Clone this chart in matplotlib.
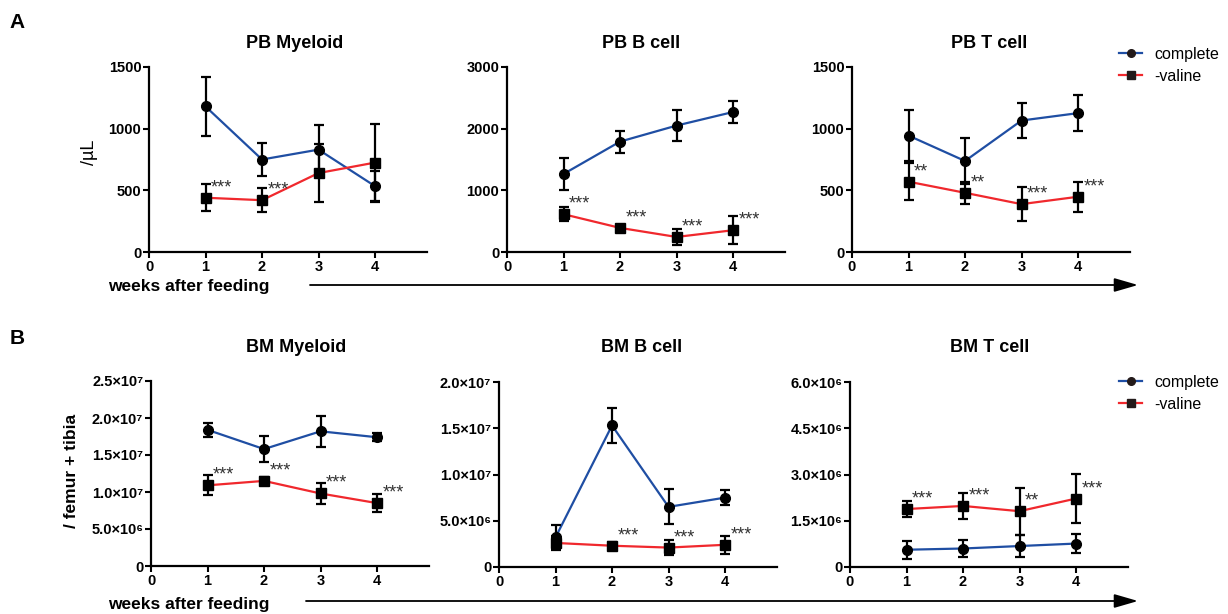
import matplotlib
matplotlib.use("Agg")
import matplotlib.pyplot as plt
from matplotlib.lines import Line2D
from matplotlib.patches import FancyArrowPatch

plt.rcParams['font.family'] = ['Liberation Sans', 'DejaVu Sans']

# ---------------- data ----------------
weeks = [1, 2, 3, 4]

# PB Myeloid (/uL)
pbm_complete = [1180, 750, 830, 534]
pbm_complete_err = [240, 130, 200, 125]
pbm_valine = [440, 420, 640, 725]
pbm_valine_err = [110, 95, 235, 310]
pbm_stars = ['***', '***', '', '']

# PB B cell (/uL)
pbb_complete = [1265, 1790, 2050, 2270]
pbb_complete_err = [265, 180, 245, 180]
pbb_valine = [613, 391, 244, 353]
pbb_valine_err = [110, 40, 130, 230]
pbb_stars = ['***', '***', '***', '***']

# PB T cell (/uL)
pbt_complete = [944, 738, 1066, 1126]
pbt_complete_err = [210, 190, 145, 145]
pbt_valine = [570, 480, 388, 448]
pbt_valine_err = [150, 90, 140, 120]
pbt_stars = ['**', '**', '***', '***']

# BM Myeloid (/femur + tibia)
bmm_complete = [18.4e6, 15.8e6, 18.2e6, 17.4e6]
bmm_complete_err = [0.95e6, 1.75e6, 2.1e6, 0.55e6]
bmm_valine = [10.9e6, 11.5e6, 9.8e6, 8.5e6]
bmm_valine_err = [1.35e6, 0.5e6, 1.45e6, 1.25e6]
bmm_stars = ['***', '***', '***', '***']

# BM B cell
bmb_complete = [3.2e6, 15.3e6, 6.5e6, 7.5e6]
bmb_complete_err = [1.3e6, 1.85e6, 1.9e6, 0.85e6]
bmb_valine = [2.6e6, 2.3e6, 2.1e6, 2.4e6]
bmb_valine_err = [0.8e6, 0.35e6, 0.8e6, 0.95e6]
bmb_stars = ['', '***', '***', '***']

# BM T cell
bmt_complete = [0.56e6, 0.60e6, 0.68e6, 0.76e6]
bmt_complete_err = [0.29e6, 0.28e6, 0.36e6, 0.31e6]
bmt_valine = [1.88e6, 1.98e6, 1.81e6, 2.22e6]
bmt_valine_err = [0.26e6, 0.43e6, 0.76e6, 0.80e6]
bmt_stars = ['***', '***', '**', '***']

titles = ['PB Myeloid', 'PB B cell', 'PB T cell', 'BM Myeloid', 'BM B cell', 'BM T cell']
x_ticks = [0, 1, 2, 3, 4]

pb_my_ticks = [0, 500, 1000, 1500]
pb_my_labels = ['0', '500', '1000', '1500']
pb_b_ticks = [0, 1000, 2000, 3000]
pb_b_labels = ['0', '1000', '2000', '3000']
pb_t_ticks = [0, 500, 1000, 1500]
pb_t_labels = ['0', '500', '1000', '1500']
bm_my_ticks = [0, 5e6, 1e7, 1.5e7, 2e7, 2.5e7]
bm_my_labels = ['0', '5.0×10⁶', '1.0×10⁷', '1.5×10⁷', '2.0×10⁷', '2.5×10⁷']
bm_b_ticks = [0, 5e6, 1e7, 1.5e7, 2e7]
bm_b_labels = ['0', '5.0×10⁶', '1.0×10⁷', '1.5×10⁷', '2.0×10⁷']
bm_t_ticks = [0, 1.5e6, 3e6, 4.5e6, 6e6]
bm_t_labels = ['0', '1.5×10⁶', '3.0×10⁶', '4.5×10⁶', '6.0×10⁶']

legend_labels = ['complete', '-valine']

# ---------------- style ----------------
BLUE = '#1f4ea3'
RED = '#f0282d'
W, H = 1228, 614

fig = plt.figure(figsize=(W / 100, H / 100), dpi=100)


def rect(left, axis_y, top, width=278):
    return [left / W, 1 - axis_y / H, width / W, (axis_y - top) / H]


def panel(r, comp, comp_err, val, val_err, stars, yticks, ylabels, title_xy, title):
    ax = fig.add_axes(r)
    ax.plot(weeks, comp, color=BLUE, lw=1.6, zorder=2)
    ax.plot(weeks, val, color=RED, lw=1.6, zorder=2)
    kw = dict(color='black', ecolor='black', elinewidth=1.6, capsize=3.3,
              capthick=1.6, markersize=7, zorder=3, ls='none')
    ax.errorbar(weeks, comp, yerr=comp_err, fmt='o', **kw)
    ax.errorbar(weeks, val, yerr=val_err, fmt='s', **kw)
    for x, y, s in zip(weeks, val, stars):
        if s:
            ax.annotate(s, (x, y), xytext=(4, 4), textcoords='offset points',
                        ha='left', va='baseline', fontsize=13, color='#333333')
    ax.set_xlim(0, 4.92)
    ax.set_ylim(0, yticks[-1])
    ax.set_xticks(x_ticks)
    ax.set_xticklabels([str(t) for t in x_ticks])
    ax.set_yticks(yticks)
    ax.set_yticklabels(ylabels)
    for sp in ['top', 'right']:
        ax.spines[sp].set_visible(False)
    for sp in ['left', 'bottom']:
        ax.spines[sp].set_linewidth(1.6)
    ax.tick_params(axis='both', direction='out', length=4, width=1.5,
                   labelsize=10.5, pad=1.5)
    for lab in ax.get_xticklabels() + ax.get_yticklabels():
        lab.set_fontweight('bold')
    ax.patch.set_alpha(0)
    fig.text(title_xy[0] / W, 1 - title_xy[1] / H, title, ha='center', va='center',
             fontsize=13, fontweight='bold')
    return ax


panel(rect(149, 252, 67), pbm_complete, pbm_complete_err, pbm_valine, pbm_valine_err,
      pbm_stars, pb_my_ticks, pb_my_labels, (295, 43), titles[0])
panel(rect(507, 252, 67), pbb_complete, pbb_complete_err, pbb_valine, pbb_valine_err,
      pbb_stars, pb_b_ticks, pb_b_labels, (641, 43), titles[1])
panel(rect(852, 252, 67), pbt_complete, pbt_complete_err, pbt_valine, pbt_valine_err,
      pbt_stars, pb_t_ticks, pb_t_labels, (989, 43), titles[2])
panel(rect(151, 566, 381), bmm_complete, bmm_complete_err, bmm_valine, bmm_valine_err,
      bmm_stars, bm_my_ticks, bm_my_labels, (296, 348), titles[3])
panel(rect(499, 567, 382), bmb_complete, bmb_complete_err, bmb_valine, bmb_valine_err,
      bmb_stars, bm_b_ticks, bm_b_labels, (642, 348), titles[4])
panel(rect(850, 567, 382), bmt_complete, bmt_complete_err, bmt_valine, bmt_valine_err,
      bmt_stars, bm_t_ticks, bm_t_labels, (990, 348), titles[5])

# panel letters
fig.text(17 / W, 1 - 22 / H, 'A', ha='center', va='center', fontsize=15, fontweight='bold')
fig.text(17 / W, 1 - 338 / H, 'B', ha='center', va='center', fontsize=15, fontweight='bold')

# y labels
fig.text(90 / W, 1 - 152 / H, '/µL', ha='center', va='center', rotation=90, fontsize=13)
fig.text(72 / W, 1 - 471 / H, '/ femur + tibia', ha='center', va='center', rotation=90,
         fontsize=12.5, fontweight='bold')

# x labels
fig.text(189 / W, 1 - 287 / H, 'weeks after feeding', ha='center', va='center',
         fontsize=12.5, fontweight='bold')
fig.text(189 / W, 1 - 604 / H, 'weeks after feeding', ha='center', va='center',
         fontsize=12.5, fontweight='bold')

# arrows
for x0, y0 in [(310, 285), (306, 601)]:
    arr = FancyArrowPatch((x0 / W, 1 - y0 / H), (1138 / W, 1 - y0 / H),
                          transform=fig.transFigure,
                          arrowstyle='-|>,head_length=1.45,head_width=0.42',
                          mutation_scale=10, lw=1.3, color='black',
                          shrinkA=0, shrinkB=0)
    fig.add_artist(arr)

# legends
handles = [Line2D([], [], color=BLUE, lw=1.6, marker='o', markersize=5.5,
                  markerfacecolor='#231a1a', markeredgecolor='#231a1a'),
           Line2D([], [], color=RED, lw=1.6, marker='s', markersize=5.5,
                  markerfacecolor='#231a1a', markeredgecolor='#231a1a')]
for ly in [47, 375]:
    fig.legend(handles, legend_labels, loc='upper left',
               bbox_to_anchor=(1119 / W, 1 - ly / H), frameon=False, fontsize=11.5,
               handlelength=1.45, handletextpad=0.75, labelspacing=0.42,
               borderpad=0, borderaxespad=0)

fig.savefig('out.png', dpi=100)
